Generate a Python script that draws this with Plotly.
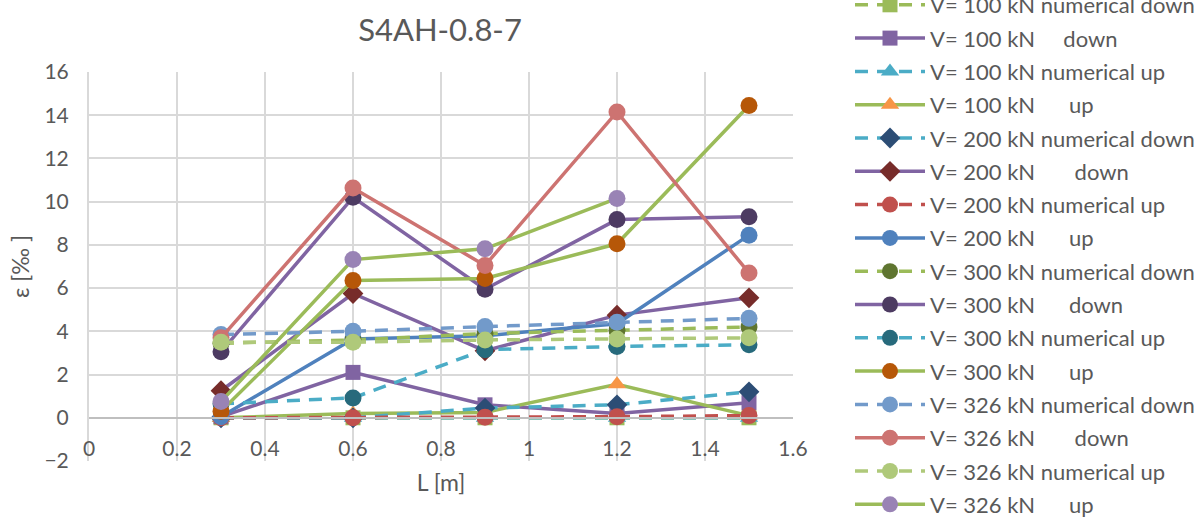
import plotly.graph_objects as go

# Measurement positions along the member [m]
L = [0.3, 0.6, 0.9, 1.2, 1.5]

# Strain readings [‰] per load level and gauge location
v100_num_down = [0.0, 0.0, 0.0, 0.0, 0.0]
v100_down = [0.05, 2.1, 0.6, 0.2, 0.7]
v100_num_up = [0.0, 0.0, 0.0, 0.0, 0.0]
v100_up = [0.0, 0.2, 0.25, 1.55, 0.1]
v200_num_down = [0.0, 0.0, 0.45, 0.6, 1.2]
v200_down = [1.25, 5.75, 3.1, 4.75, 5.55]
v200_num_up = [0.0, 0.0, 0.03, 0.05, 0.1]
v200_up = [0.05, 3.65, 3.8, 4.35, 8.45]
v300_num_down = [3.45, 3.6, 3.9, 4.05, 4.2]
v300_down = [3.05, 10.2, 5.95, 9.17, 9.3]
v300_num_up = [0.65, 0.92, 3.15, 3.3, 3.38]
v300_up = [0.3, 6.35, 6.45, 8.05, 14.45]
v326_num_down = [3.85, 4.0, 4.22, 4.42, 4.6]
v326_down = [3.7, 10.63, 7.05, 14.15, 6.7]
v326_num_up = [3.5, 3.5, 3.6, 3.65, 3.7]
v326_up = [0.75, 7.32, 7.82, 10.15, None]

NB = "\u00a0"
FONT = "Lato, 'Open Sans', sans-serif"
GREY = "#595959"
DASH = "13px,9px"

# (name, values, line colour, dashed, marker symbol, marker colour, marker size)
series = [
    ("V= 100 kN numerical down", v100_num_down, "#9BBB59", True, "square", "#9BBB59", 15),
    ("V= 100 kN" + NB * 5 + "down", v100_down, "#8064A2", False, "square", "#8064A2", 15),
    ("V= 100 kN numerical up", v100_num_up, "#4BACC6", True, "triangle-up", "#4BACC6", 16),
    ("V= 100 kN" + NB * 6 + "up", v100_up, "#9BBB59", False, "triangle-up", "#F79646", 16),
    ("V= 200 kN numerical down", v200_num_down, "#4BACC6", True, "diamond", "#2C4D75", 16),
    ("V= 200 kN" + NB * 7 + "down", v200_down, "#8064A2", False, "diamond", "#772C2A", 16),
    ("V= 200 kN numerical up", v200_num_up, "#C0504D", True, "circle", "#C0504D", 17),
    ("V= 200 kN" + NB * 6 + "up", v200_up, "#4F81BD", False, "circle", "#4F81BD", 17),
    ("V= 300 kN numerical down", v300_num_down, "#9BBB59", True, "circle", "#5F7530", 17),
    ("V= 300 kN" + NB * 6 + "down", v300_down, "#8064A2", False, "circle", "#4D3B62", 17),
    ("V= 300 kN numerical up", v300_num_up, "#4BACC6", True, "circle", "#276A7C", 17),
    ("V= 300 kN" + NB * 6 + "up", v300_up, "#9BBB59", False, "circle", "#B65708", 17),
    ("V= 326 kN numerical down", v326_num_down, "#729ACA", True, "circle", "#729ACA", 17),
    ("V= 326 kN" + NB * 7 + "down", v326_down, "#CD7371", False, "circle", "#CD7371", 17),
    ("V= 326 kN numerical up", v326_num_up, "#AFC97A", True, "circle", "#AFC97A", 17),
    ("V= 326 kN" + NB * 6 + "up", v326_up, "#9BBB59", False, "circle", "#9983B5", 17),
]

fig = go.Figure()
for i, (name, vals, lc, dashed, sym, mc, ms) in enumerate(series):
    fig.add_trace(go.Scatter(
        x=L, y=vals, name=name, mode="lines+markers",
        legendgroup=f"g{i}",
        line=dict(color=lc, width=3.5, dash=DASH if dashed else "solid"),
        marker=dict(symbol=sym, color=mc, size=ms, line=dict(width=0)),
        connectgaps=False,
    ))

fig.update_layout(
    width=1203, height=519,
    margin=dict(l=89, r=410, t=72, b=58, autoexpand=False),
    paper_bgcolor="white", plot_bgcolor="white",
    font=dict(family=FONT, color=GREY, size=20),
    title=dict(text="S4AH-0.8-7", x=0.4986, xref="paper", xanchor="center",
               y=1 - 30 / 519, yanchor="middle",
               font=dict(size=31, color=GREY, family=FONT)),
    showlegend=True,
    legend=dict(
        x=(850 - 89) / 704, xanchor="left", y=1 + (72 + 16) / 389, yanchor="top",
        font=dict(size=22, color=GREY, family=FONT),
        itemwidth=70, tracegroupgap=1.7, maxheight=700,
        bgcolor="rgba(0,0,0,0)",
    ),
)

fig.update_xaxes(
    range=[0, 1.6], dtick=0.2, tick0=0,
    showgrid=True, gridcolor="#D9D9D9", gridwidth=2,
    zeroline=False,
    anchor="free", position=(0 - (-2)) / 18,
    showline=True, linecolor="#BFBFBF", linewidth=2,
    ticks="", ticklabelstandoff=12,
    tickfont=dict(size=21, color=GREY, family=FONT),
    title=dict(text="L [m]", standoff=15, font=dict(size=23, color=GREY, family=FONT)),
)
fig.update_yaxes(
    range=[-2, 16], dtick=2, tick0=0,
    showgrid=True, gridcolor="#D9D9D9", gridwidth=2,
    zeroline=False,
    showline=True, linecolor="#D9D9D9", linewidth=2,
    ticks="", ticklabelstandoff=14,
    tickfont=dict(size=21, color=GREY, family=FONT),
    title=dict(text="ε [‰ ]", standoff=8, font=dict(size=23, color=GREY, family=FONT)),
)

fig.write_html("out.html")
